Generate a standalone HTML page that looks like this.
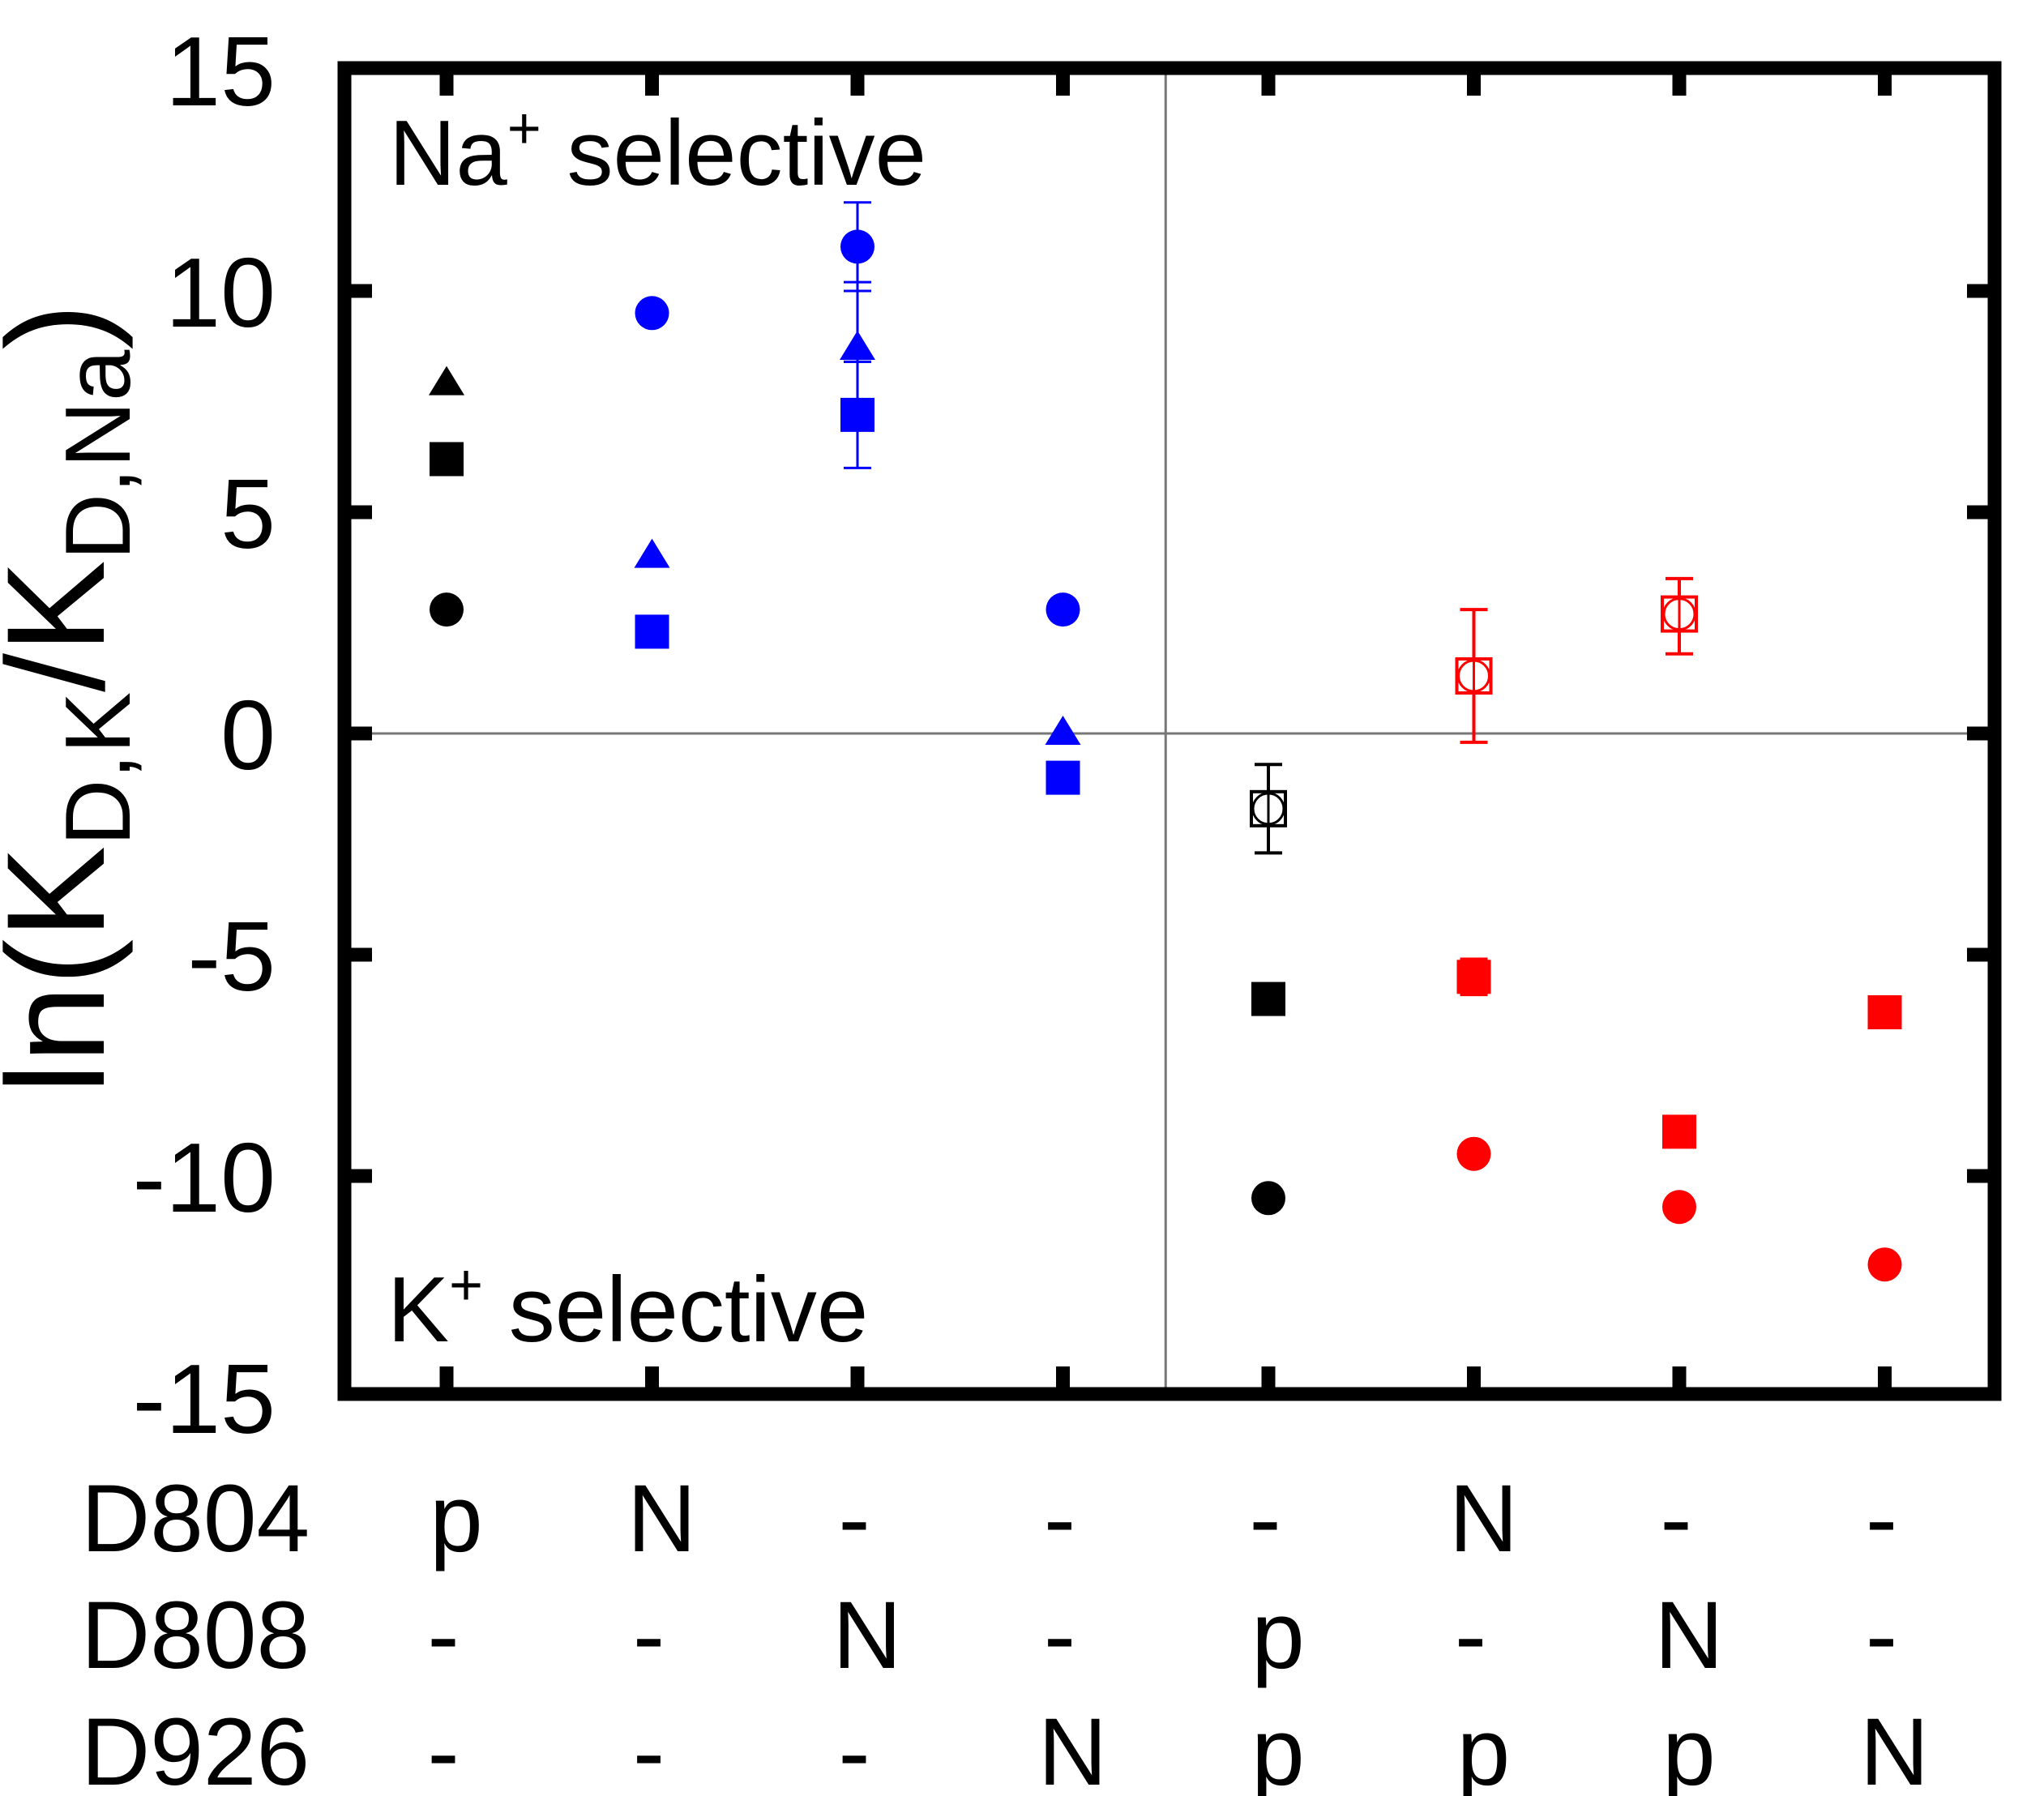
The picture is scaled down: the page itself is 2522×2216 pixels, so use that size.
<!DOCTYPE html>
<html><head><meta charset="utf-8"><style>
html,body{margin:0;padding:0;background:#fff;}
svg{display:block;font-family:"Liberation Sans",Arial,sans-serif;}
</style></head><body>
<svg id="chart" width="2522" height="2216" viewBox="0 0 2522 2216" xmlns="http://www.w3.org/2000/svg">
<g id="grid"></g>
<g id="marks"></g>
<g id="axes"></g>
<text x="480" y="228" font-size="114">Na<tspan dy="-45" font-size="72">+</tspan><tspan dy="45"> selective</tspan></text>
<text x="478" y="1655" font-size="114">K<tspan dy="-45" font-size="72">+</tspan><tspan dy="45"> selective</tspan></text>
<text transform="translate(128,862) rotate(-90)" text-anchor="middle" font-size="172">ln(K<tspan font-size="114" dy="32">D,K</tspan><tspan dy="-32">/K</tspan><tspan font-size="114" dy="32">D,Na</tspan><tspan dy="-32">)</tspan></text>
<g id="xlabels"></g>
</svg>
<script>
const categories = [0,1,2,3,4,5,6,7];
const yTicks = [15,10,5,0,-5,-10,-15];
const rowNames = ["D804","D808","D926"];
const rowD804 = ["p","N","-","-","-","N","-","-"];
const rowD808 = ["-","-","N","-","p","-","N","-"];
const rowD926 = ["-","-","-","N","p","p","p","N"];
const circleVals = [2.8,9.5,11.0,2.8,-10.5,-9.5,-10.7,-12.0];
const squareVals = [6.2,2.3,7.2,-1.0,-6.0,-5.5,-9.0,-6.3];
const triangleVals = [7.9,4.0,8.7,0.0,null,null,null,null];
const openVals = [null,null,null,null,-1.7,1.3,2.7,null];
const openErrLo = [null,null,null,null,-2.7,-0.2,1.8,null];
const openErrHi = [null,null,null,null,-0.7,2.8,3.5,null];
const circleErrLo = [null,null,10.0,null,null,null,null,null];
const circleErrHi = [null,null,12.0,null,null,null,null,null];
const triErrLo = [null,null,8.4,null,null,null,null,null];
const triErrHi = [null,null,10.2,null,null,null,null,null];
const sqErrLo = [null,null,6.0,null,null,null,null,null];
const sqErrHi = [null,null,8.4,null,null,null,null,null];
const sqErrLo2 = [null,null,null,null,null,-5.9,null,null];
const sqErrHi2 = [null,null,null,null,null,-5.1,null,null];
const groupColor = ["#000","#0000ff","#0000ff","#0000ff","#000","#ff0000","#ff0000","#ff0000"];

const NS="http://www.w3.org/2000/svg";
const L=425,R=2461,T=84,B=1720;
const x0=551, dx=253.5;
function xs(i){return x0+i*dx;}
function ys(v){return 905 - v*54.6;}
function mk(tag,attrs,parent){const e=document.createElementNS(NS,tag);for(const k in attrs)e.setAttribute(k,attrs[k]);parent.appendChild(e);return e;}
const grid=document.getElementById('grid'),marks=document.getElementById('marks'),axes=document.getElementById('axes'),xl=document.getElementById('xlabels');

let e=mk('line',{x1:L,x2:R,y1:ys(0),y2:ys(0),stroke:'#777','stroke-width':3},grid);


e=mk('line',{x1:(xs(3)+xs(4))/2,x2:(xs(3)+xs(4))/2,y1:T,y2:B,stroke:'#777','stroke-width':3},grid);



e=mk('rect',{x:L,y:T,width:R-L,height:B-T,fill:'none',stroke:'#000','stroke-width':17},axes);


yTicks.forEach(v=>{
  const y=ys(v);
  if(v!==15 && v!==-15){
    let t=mk('line',{x1:L,x2:L+34,y1:y,y2:y,stroke:'#000','stroke-width':17},axes);
    
    
    t=mk('line',{x1:R-34,x2:R,y1:y,y2:y,stroke:'#000','stroke-width':17},axes);
    
    
  }
  const lab=mk('text',{x:340,y:y+44,'text-anchor':'end','font-size':122},axes);
  lab.textContent=String(v);
  
  
});
categories.forEach(i=>{
  const x=xs(i);
  let t=mk('line',{x1:x,x2:x,y1:T,y2:T+34,stroke:'#000','stroke-width':17},axes);
  
  
  t=mk('line',{x1:x,x2:x,y1:B-34,y2:B,stroke:'#000','stroke-width':17},axes);
  
  
});

function errbar(i,lo,hi,col,w){
  const x=xs(i);
  const g=mk('g',{stroke:col,'stroke-width':w},marks);
  
  
  mk('line',{x1:x,x2:x,y1:ys(lo),y2:ys(hi)},g);
  mk('line',{x1:x-17,x2:x+17,y1:ys(lo),y2:ys(lo)},g);
  mk('line',{x1:x-17,x2:x+17,y1:ys(hi),y2:ys(hi)},g);
}
categories.forEach(i=>{
  const x=xs(i),c=groupColor[i];
  if(circleErrLo[i]!=null)errbar(i,circleErrLo[i],circleErrHi[i],c,3);
  if(triErrLo[i]!=null)errbar(i,triErrLo[i],triErrHi[i],c,3);
  if(sqErrLo[i]!=null)errbar(i,sqErrLo[i],sqErrHi[i],c,3);
  if(sqErrLo2[i]!=null)errbar(i,sqErrLo2[i],sqErrHi2[i],c,4);
  if(openVals[i]!=null)errbar(i,openErrLo[i],openErrHi[i],c,4);
  if(circleVals[i]!=null){
    const m=mk('circle',{cx:x,cy:ys(circleVals[i]),r:21,fill:c},marks);
    
    
  }
  if(squareVals[i]!=null){
    const m=mk('rect',{x:x-21,y:ys(squareVals[i])-21,width:42,height:42,fill:c},marks);
    
    
  }
  if(triangleVals[i]!=null){
    const y=ys(triangleVals[i]);
    const m=mk('polygon',{points:`${x},${y-22} ${x-22},${y+14} ${x+22},${y+14}`,fill:c},marks);
    
    
  }
  if(openVals[i]!=null){
    const y=ys(openVals[i]);
    const m=mk('rect',{x:x-21,y:y-21,width:42,height:42,fill:'#fff',stroke:c,'stroke-width':4},marks);
    
    
    const m2=mk('circle',{cx:x,cy:y,r:19,fill:'none',stroke:c,'stroke-width':3},marks);
    
    
    mk('line',{x1:x,x2:x,y1:y-21,y2:y+21,stroke:c,'stroke-width':3},marks);
  }
});

const rows=[rowD804,rowD808,rowD926];
const baselines=[1914,2058,2202];
rows.forEach((row,r)=>{
  const n=mk('text',{x:100,y:baselines[r],'font-size':118},xl);
  n.textContent=rowNames[r];
  
  
  row.forEach((s,i)=>{
    const off = s==='-' ? -4 : 12;
    const t=mk('text',{x:xs(i)+off,y:baselines[r],'text-anchor':'middle','font-size':118},xl);
    t.textContent=s;
    
    
  });
});
</script>
</body></html>
